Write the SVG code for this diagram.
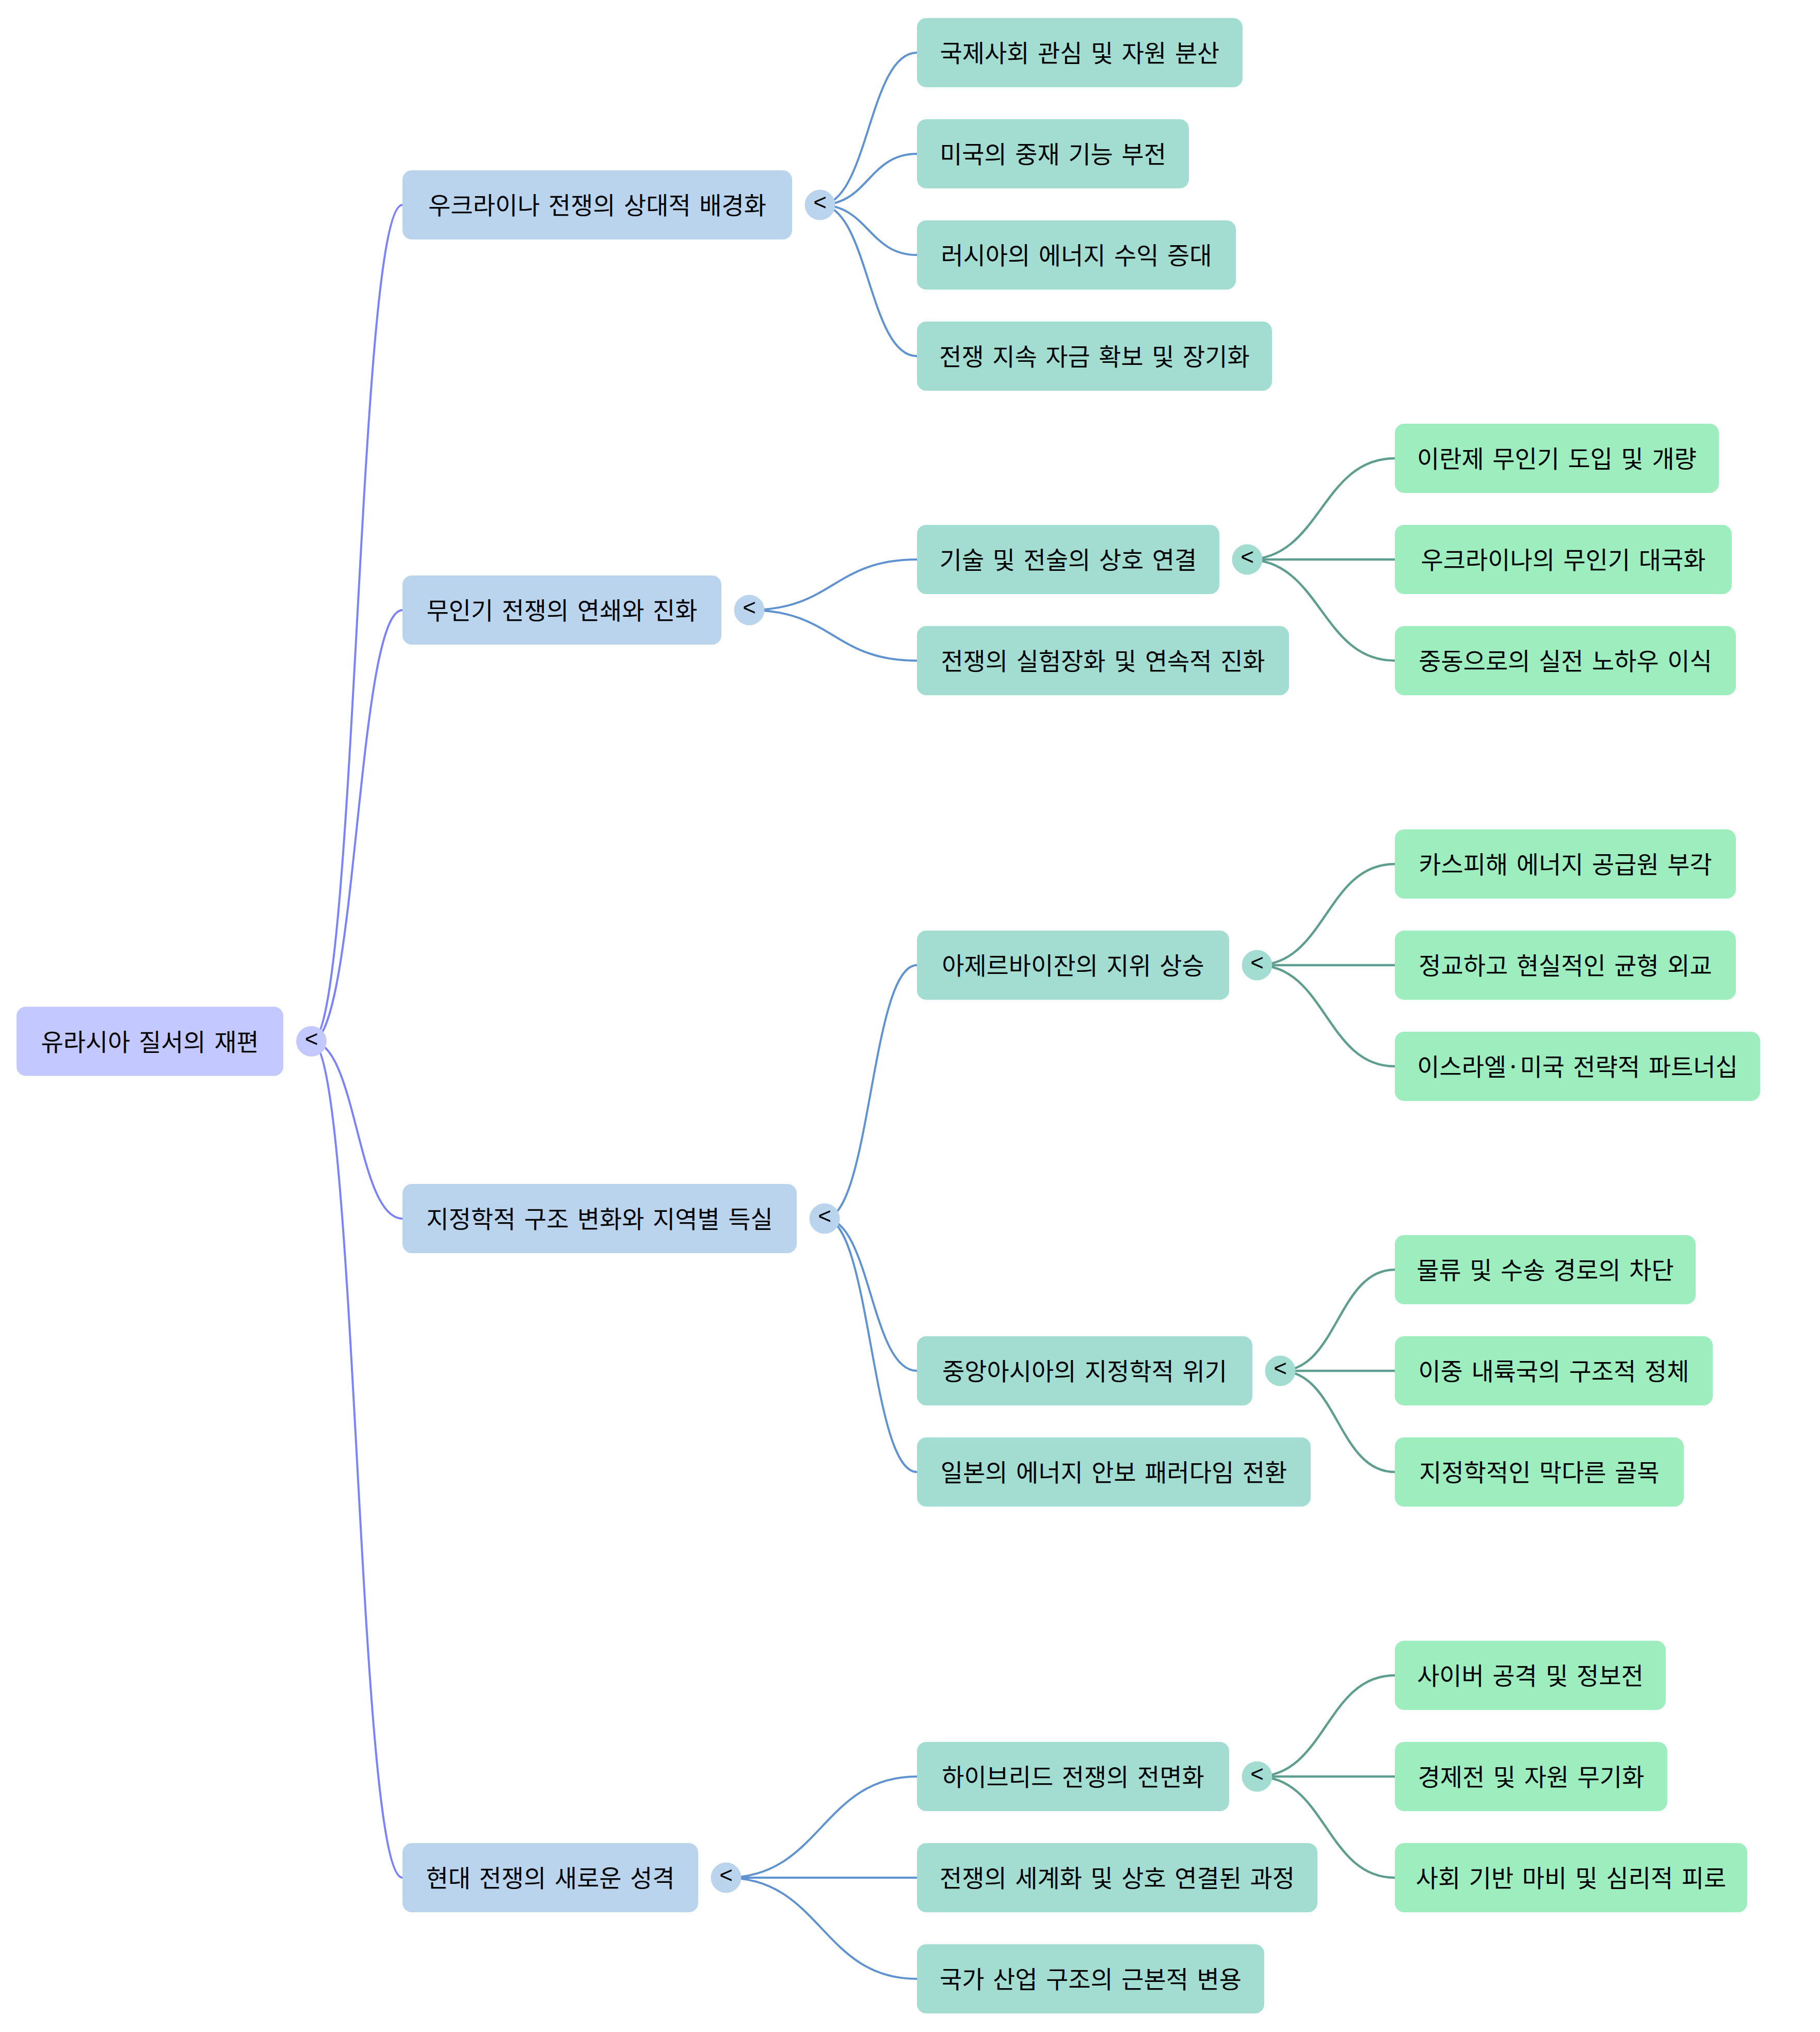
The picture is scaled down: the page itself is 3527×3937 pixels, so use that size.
<svg xmlns="http://www.w3.org/2000/svg" width="3527" height="3937" viewBox="0 0 3527 3937">
<style>
.t{font-family:"Noto Sans CJK KR","Noto Sans",sans-serif;font-size:47px;word-spacing:6px;fill:#000;text-anchor:middle}
.tg{font-family:"Liberation Sans",sans-serif;font-size:44px;fill:#000;text-anchor:middle}
.b0{fill:#C3C8FE}
.b1{fill:#BBD4EE}
.b2{fill:#A3DCD1}
.b3{fill:#9DEDBE}
.c0{fill:none;stroke:#7B82FF;stroke-width:4}
.c1{fill:none;stroke:#5E92D0;stroke-width:4}
.c2{fill:none;stroke:#5E9E8F;stroke-width:4.5}
</style>
<rect width="3527" height="3937" fill="#fff"/>
<g id="connectors">
<path class="c0" d="M603.5 2017.5 C691.75 2017.5 691.75 397 780 397"/>
<path class="c0" d="M603.5 2017.5 C691.75 2017.5 691.75 1182 780 1182"/>
<path class="c0" d="M603.5 2017.5 C691.75 2017.5 691.75 2361 780 2361"/>
<path class="c0" d="M603.5 2017.5 C691.75 2017.5 691.75 3638 780 3638"/>
<path class="c1" d="M1589 397 C1683 397 1683 102 1777 102"/>
<path class="c1" d="M1589 397 C1683 397 1683 298 1777 298"/>
<path class="c1" d="M1589 397 C1683 397 1683 494 1777 494"/>
<path class="c1" d="M1589 397 C1683 397 1683 690 1777 690"/>
<path class="c1" d="M1452 1182 C1614.5 1182 1614.5 1084 1777 1084"/>
<path class="c1" d="M1452 1182 C1614.5 1182 1614.5 1280 1777 1280"/>
<path class="c1" d="M1598 2361 C1687.5 2361 1687.5 1870 1777 1870"/>
<path class="c1" d="M1598 2361 C1687.5 2361 1687.5 2656 1777 2656"/>
<path class="c1" d="M1598 2361 C1687.5 2361 1687.5 2852 1777 2852"/>
<path class="c1" d="M1407 3638 C1592 3638 1592 3442 1777 3442"/>
<path class="c1" d="M1407 3638 C1592 3638 1592 3638 1777 3638"/>
<path class="c1" d="M1407 3638 C1592 3638 1592 3834 1777 3834"/>
<path class="c2" d="M2417 1084 C2560 1084 2560 888 2703 888"/>
<path class="c2" d="M2417 1084 C2560 1084 2560 1084 2703 1084"/>
<path class="c2" d="M2417 1084 C2560 1084 2560 1280 2703 1280"/>
<path class="c2" d="M2436 1870 C2569.5 1870 2569.5 1674 2703 1674"/>
<path class="c2" d="M2436 1870 C2569.5 1870 2569.5 1870 2703 1870"/>
<path class="c2" d="M2436 1870 C2569.5 1870 2569.5 2066 2703 2066"/>
<path class="c2" d="M2481 2656 C2592 2656 2592 2460 2703 2460"/>
<path class="c2" d="M2481 2656 C2592 2656 2592 2656 2703 2656"/>
<path class="c2" d="M2481 2656 C2592 2656 2592 2852 2703 2852"/>
<path class="c2" d="M2436 3442 C2569.5 3442 2569.5 3246 2703 3246"/>
<path class="c2" d="M2436 3442 C2569.5 3442 2569.5 3442 2703 3442"/>
<path class="c2" d="M2436 3442 C2569.5 3442 2569.5 3638 2703 3638"/>
</g>
<g id="root">
<rect class="b0" x="32" y="1950.5" width="517" height="134" rx="18"/>
<text class="t" x="290.5" y="2035.5">유라시아 질서의 재편</text>
<circle class="b0" cx="603.5" cy="2017.5" r="29.5"/>
<text class="tg" x="603.5" y="2027.5">&lt;</text>
</g>
<g id="n1">
<rect class="b1" x="780" y="330" width="755" height="134" rx="18"/>
<text class="t" x="1157.5" y="415">우크라이나 전쟁의 상대적 배경화</text>
<circle class="b1" cx="1589" cy="397" r="29.5"/>
<text class="tg" x="1589" y="407">&lt;</text>
</g>
<g id="n2">
<rect class="b1" x="780" y="1115" width="618" height="134" rx="18"/>
<text class="t" x="1089" y="1200">무인기 전쟁의 연쇄와 진화</text>
<circle class="b1" cx="1452" cy="1182" r="29.5"/>
<text class="tg" x="1452" y="1192">&lt;</text>
</g>
<g id="n3">
<rect class="b1" x="780" y="2294" width="764" height="134" rx="18"/>
<text class="t" x="1162" y="2379">지정학적 구조 변화와 지역별 득실</text>
<circle class="b1" cx="1598" cy="2361" r="29.5"/>
<text class="tg" x="1598" y="2371">&lt;</text>
</g>
<g id="n4">
<rect class="b1" x="780" y="3571" width="573" height="134" rx="18"/>
<text class="t" x="1066.5" y="3656">현대 전쟁의 새로운 성격</text>
<circle class="b1" cx="1407" cy="3638" r="29.5"/>
<text class="tg" x="1407" y="3648">&lt;</text>
</g>
<g id="n1a">
<rect class="b2" x="1777" y="35" width="631" height="134" rx="18"/>
<text class="t" x="2092.5" y="120">국제사회 관심 및 자원 분산</text>
</g>
<g id="n1b">
<rect class="b2" x="1777" y="231" width="527" height="134" rx="18"/>
<text class="t" x="2040.5" y="316">미국의 중재 기능 부전</text>
</g>
<g id="n1c">
<rect class="b2" x="1777" y="427" width="618" height="134" rx="18"/>
<text class="t" x="2086" y="512">러시아의 에너지 수익 증대</text>
</g>
<g id="n1d">
<rect class="b2" x="1777" y="623" width="688" height="134" rx="18"/>
<text class="t" x="2121" y="708">전쟁 지속 자금 확보 및 장기화</text>
</g>
<g id="n2a">
<rect class="b2" x="1777" y="1017" width="586" height="134" rx="18"/>
<text class="t" x="2070" y="1102">기술 및 전술의 상호 연결</text>
<circle class="b2" cx="2417" cy="1084" r="29.5"/>
<text class="tg" x="2417" y="1094">&lt;</text>
</g>
<g id="n2b">
<rect class="b2" x="1777" y="1213" width="721" height="134" rx="18"/>
<text class="t" x="2137.5" y="1298">전쟁의 실험장화 및 연속적 진화</text>
</g>
<g id="n3a">
<rect class="b2" x="1777" y="1803" width="605" height="134" rx="18"/>
<text class="t" x="2079.5" y="1888">아제르바이잔의 지위 상승</text>
<circle class="b2" cx="2436" cy="1870" r="29.5"/>
<text class="tg" x="2436" y="1880">&lt;</text>
</g>
<g id="n3b">
<rect class="b2" x="1777" y="2589" width="650" height="134" rx="18"/>
<text class="t" x="2102" y="2674">중앙아시아의 지정학적 위기</text>
<circle class="b2" cx="2481" cy="2656" r="29.5"/>
<text class="tg" x="2481" y="2666">&lt;</text>
</g>
<g id="n3c">
<rect class="b2" x="1777" y="2785" width="763" height="134" rx="18"/>
<text class="t" x="2158.5" y="2870">일본의 에너지 안보 패러다임 전환</text>
</g>
<g id="n4a">
<rect class="b2" x="1777" y="3375" width="605" height="134" rx="18"/>
<text class="t" x="2079.5" y="3460">하이브리드 전쟁의 전면화</text>
<circle class="b2" cx="2436" cy="3442" r="29.5"/>
<text class="tg" x="2436" y="3452">&lt;</text>
</g>
<g id="n4b">
<rect class="b2" x="1777" y="3571" width="776" height="134" rx="18"/>
<text class="t" x="2165" y="3656">전쟁의 세계화 및 상호 연결된 과정</text>
</g>
<g id="n4c">
<rect class="b2" x="1777" y="3767" width="673" height="134" rx="18"/>
<text class="t" x="2113.5" y="3852">국가 산업 구조의 근본적 변용</text>
</g>
<g id="n2a1">
<rect class="b3" x="2703" y="821" width="628" height="134" rx="18"/>
<text class="t" x="3017" y="906">이란제 무인기 도입 및 개량</text>
</g>
<g id="n2a2">
<rect class="b3" x="2703" y="1017" width="653" height="134" rx="18"/>
<text class="t" x="3029.5" y="1102">우크라이나의 무인기 대국화</text>
</g>
<g id="n2a3">
<rect class="b3" x="2703" y="1213" width="661" height="134" rx="18"/>
<text class="t" x="3033.5" y="1298">중동으로의 실전 노하우 이식</text>
</g>
<g id="n3a1">
<rect class="b3" x="2703" y="1607" width="661" height="134" rx="18"/>
<text class="t" x="3033.5" y="1692">카스피해 에너지 공급원 부각</text>
</g>
<g id="n3a2">
<rect class="b3" x="2703" y="1803" width="661" height="134" rx="18"/>
<text class="t" x="3033.5" y="1888">정교하고 현실적인 균형 외교</text>
</g>
<g id="n3a3">
<rect class="b3" x="2703" y="1999" width="708" height="134" rx="18"/>
<text class="t" x="3057" y="2084">이스라엘·미국 전략적 파트너십</text>
</g>
<g id="n3b1">
<rect class="b3" x="2703" y="2393" width="583" height="134" rx="18"/>
<text class="t" x="2994.5" y="2478">물류 및 수송 경로의 차단</text>
</g>
<g id="n3b2">
<rect class="b3" x="2703" y="2589" width="616" height="134" rx="18"/>
<text class="t" x="3011" y="2674">이중 내륙국의 구조적 정체</text>
</g>
<g id="n3b3">
<rect class="b3" x="2703" y="2785" width="560" height="134" rx="18"/>
<text class="t" x="2983" y="2870">지정학적인 막다른 골목</text>
</g>
<g id="n4a1">
<rect class="b3" x="2703" y="3179" width="525" height="134" rx="18"/>
<text class="t" x="2965.5" y="3264">사이버 공격 및 정보전</text>
</g>
<g id="n4a2">
<rect class="b3" x="2703" y="3375" width="528" height="134" rx="18"/>
<text class="t" x="2967" y="3460">경제전 및 자원 무기화</text>
</g>
<g id="n4a3">
<rect class="b3" x="2703" y="3571" width="683" height="134" rx="18"/>
<text class="t" x="3044.5" y="3656">사회 기반 마비 및 심리적 피로</text>
</g>
</svg>
